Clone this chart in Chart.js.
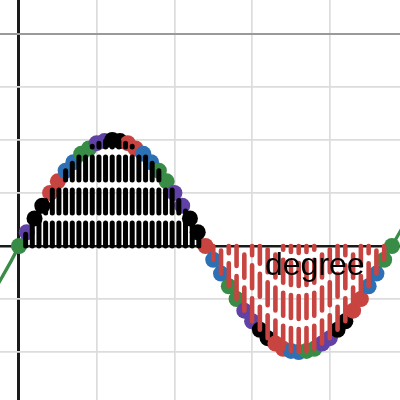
<!DOCTYPE html>
<html>
<head>
<meta charset="utf-8">
<script src="https://cdn.jsdelivr.net/npm/chart.js@4/dist/chart.umd.min.js"></script>
<style>
    html, body { margin: 0; padding: 0; background: #fff; }
    #wrap { width: 400px; height: 400px; }
</style>
</head>
<body>
<div id="wrap"><canvas id="graph" width="400" height="400"></canvas></div>
<script>
// points on the curve (x in grid units, one grid cell = 1)
const pointX = [0, 0.1, 0.2, 0.3, 0.4, 0.5, 0.6, 0.7, 0.8, 0.9, 1, 1.1, 1.2, 1.3, 1.4, 1.5, 1.6, 1.7, 1.8, 1.9,
    2, 2.1, 2.2, 2.3, 2.4, 2.5, 2.6, 2.7, 2.8, 2.9, 3, 3.1, 3.2, 3.3, 3.4, 3.5, 3.6, 3.7, 3.8, 3.9,
    4, 4.1, 4.2, 4.3, 4.4, 4.5, 4.6, 4.7, 4.8];
const pointY = [0, 0.13, 0.26, 0.38, 0.5, 0.61, 0.71, 0.79, 0.87, 0.92, 0.97, 0.99, 1, 0.99, 0.97, 0.92, 0.87,
    0.79, 0.71, 0.61, 0.5, 0.38, 0.26, 0.13, 0, -0.13, -0.26, -0.38, -0.5, -0.61, -0.71, -0.79, -0.87,
    -0.92, -0.97, -0.99, -1, -0.99, -0.97, -0.92, -0.87, -0.79, -0.71, -0.61, -0.5, -0.38, -0.26, -0.13, 0];

const RED = '#c74440', BLUE = '#2d70b3', GREEN = '#388c46', PURPLE = '#6042a6', BLACK = '#000000';
const pointColors = [GREEN, PURPLE, BLACK, BLACK, RED, RED, BLUE, BLUE, GREEN, GREEN, PURPLE, PURPLE,
    BLACK, BLACK, RED, RED, BLUE, BLUE, GREEN, GREEN, PURPLE, PURPLE, BLACK, BLACK, RED,
    BLUE, BLUE, GREEN, GREEN, PURPLE, PURPLE, BLACK, BLACK, RED, RED, BLUE, BLUE, GREEN, GREEN,
    PURPLE, PURPLE, BLACK, BLACK, RED, RED, BLUE, BLUE, GREEN, GREEN];

// green curve pieces sticking out past the points
const curveLeftX = [-0.3, -0.2, -0.1];
const curveLeftY = [-0.4, -0.27, -0.14];
const curveRightX = [4.9, 5.0];
const curveRightY = [0.13, 0.26];

// black dashed bars above the axis
const upBarX = [0.086, 0.171, 0.257, 0.343, 0.429, 0.514, 0.6, 0.686, 0.771, 0.857, 0.943, 1.029, 1.114, 1.2,
    1.286, 1.371, 1.457, 1.543, 1.629, 1.714, 1.8, 1.886, 1.971, 2.057, 2.143, 2.229, 2.314];
const upBarY = [0.11, 0.22, 0.33, 0.43, 0.53, 0.62, 0.71, 0.78, 0.85, 0.9, 0.94, 0.97, 0.99, 1, 0.99, 0.97,
    0.94, 0.9, 0.85, 0.78, 0.71, 0.62, 0.53, 0.43, 0.33, 0.22, 0.11];

// red dashed bars below the axis (same x as points 25..47)
const downBarX = pointX.slice(25, 48);
const downBarY = pointY.slice(25, 48);

const labelText = 'degree';

// bars: one subpath per bar, separated by a gap point
function barData(xs, ys, fromAxis) {
    const out = [];
    xs.forEach((x, i) => {
        if (fromAxis) {
            out.push({ x: x, y: 0 }, { x: x, y: ys[i] });
        } else {
            out.push({ x: x, y: ys[i] }, { x: x, y: 0 });
        }
        out.push({ x: x, y: null });
    });
    return out;
}

const curveData = [];
curveLeftX.forEach((x, i) => curveData.push({ x: x, y: curveLeftY[i] }));
pointX.forEach((x, i) => curveData.push({ x: x, y: pointY[i] }));
curveRightX.forEach((x, i) => curveData.push({ x: x, y: curveRightY[i] }));

// text label, drawn over the bars
const label = {
    id: 'label',
    afterDatasetsDraw(chart) {
        const { ctx, scales: { x, y } } = chart;
        ctx.save();
        ctx.font = '32px "Liberation Sans", Arial, sans-serif';
        ctx.fillStyle = '#000';
        ctx.textBaseline = 'alphabetic';
        ctx.fillText(labelText, x.getPixelForValue(3.166), y.getPixelForValue(-0.27));
        ctx.restore();
    }
};

const ctx = document.getElementById('graph').getContext('2d');
new Chart(ctx, {
    type: 'line',
    data: {
        datasets: [
            {
                data: barData(upBarX, upBarY, true),
                borderColor: BLACK,
                borderWidth: 5,
                borderDash: [23, 10],
                borderCapStyle: 'round',
                pointRadius: 0,
                spanGaps: false,
                order: 0
            },
            {
                data: barData(downBarX, downBarY, false),
                borderColor: RED,
                borderWidth: 4.6,
                borderDash: [23, 10],
                borderCapStyle: 'round',
                pointRadius: 0,
                spanGaps: false,
                order: 1
            },
            {
                data: pointX.map((x, i) => ({ x: x, y: pointY[i] })),
                showLine: false,
                pointRadius: 8,
                pointBorderWidth: 0,
                pointBackgroundColor: pointColors,
                order: 2
            },
            {
                data: curveData,
                borderColor: GREEN,
                borderWidth: 3.3,
                pointRadius: 0,
                order: 3
            }
        ]
    },
    options: {
        responsive: false,
        animation: false,
        events: [],
        layout: { padding: 0, autoPadding: false },
        plugins: { legend: { display: false }, tooltip: { enabled: false } },
        scales: {
            x: {
                type: 'linear',
                min: -0.2445,
                max: 4.9035,
                ticks: { display: false, stepSize: 1, includeBounds: false },
                border: { display: false },
                grid: {
                    drawTicks: false,
                    color: c => c.tick.value === 0 ? '#1a1a1a' : '#dcdcdc',
                    lineWidth: c => c.tick.value === 0 ? 3 : 1.7
                }
            },
            y: {
                type: 'linear',
                min: -1.453,
                max: 2.321,
                ticks: { display: false, stepSize: 0.5, includeBounds: false },
                border: { display: false },
                grid: {
                    drawTicks: false,
                    color: c => c.tick.value === 0 ? '#1a1a1a' : (c.tick.value === 2 ? '#9a9a9a' : '#dcdcdc'),
                    lineWidth: c => c.tick.value === 0 ? 2.6 : (c.tick.value === 2 ? 2 : 1.7)
                }
            }
        }
    },
    plugins: [label]
});
</script>
</body>
</html>
